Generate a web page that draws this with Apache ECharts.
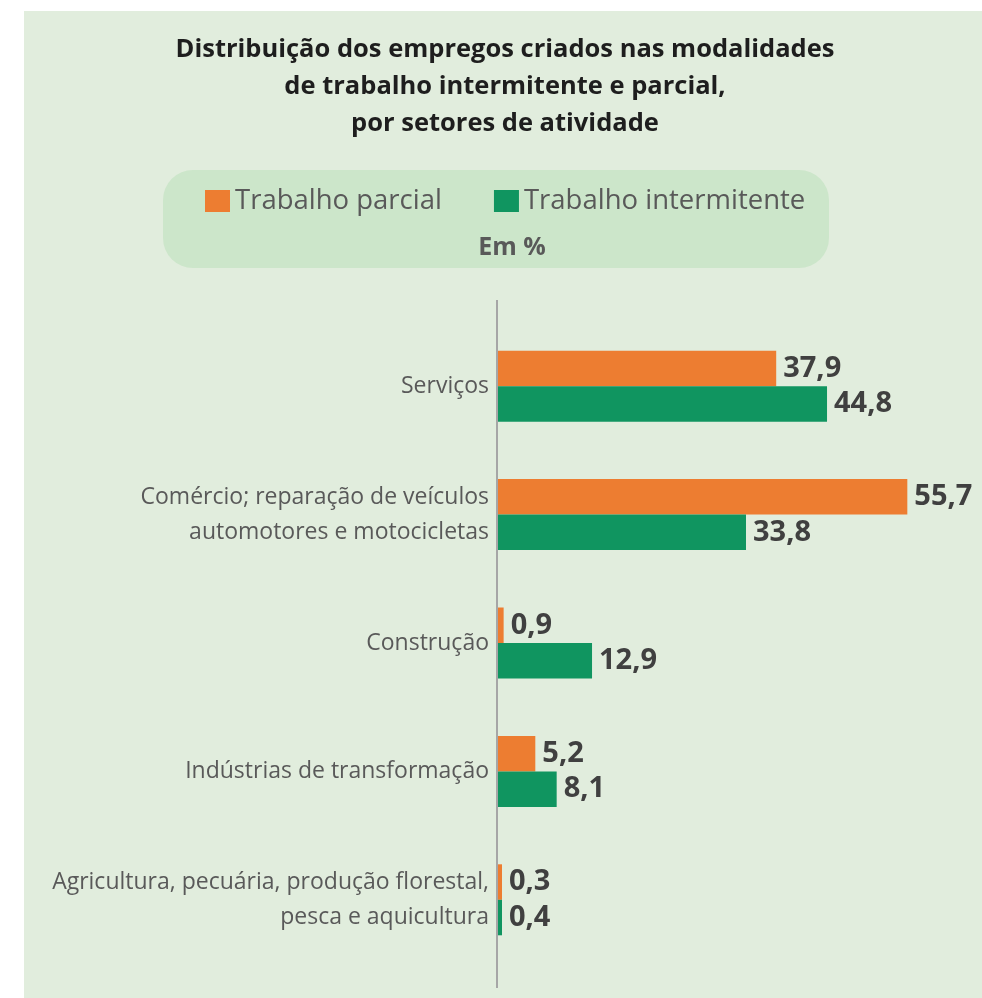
<!DOCTYPE html>
<html>
<head>
<meta charset="utf-8">
<script src="https://cdn.jsdelivr.net/npm/echarts@6/dist/echarts.min.js"></script>
<style>
html, body { margin: 0; padding: 0; background: #ffffff; }
#chart { width: 982px; height: 998px; }
</style>
</head>
<body>
<div id="chart"></div>
<script>
const categories = [
    "Serviços",
    "Comércio; reparação de veículos\nautomotores e motocicletas",
    "Construção",
    "Indústrias de transformação",
    "Agricultura, pecuária, produção florestal,\npesca e aquicultura"
];
const parcial = [37.9, 55.7, 0.9, 5.2, 0.3];
const intermitente = [44.8, 33.8, 12.9, 8.1, 0.4];
const seriesNames = ["Trabalho parcial", "Trabalho intermitente"];

const fontFamily = "'Open Sans', 'Noto Sans', sans-serif";
const fmt = v => String(v.value).replace(".", ",");

let myChart = echarts.init(document.getElementById("chart"));

let barLabel = {
    show: true,
    position: "right",
    distance: 7,
    formatter: fmt,
    color: "#404040",
    fontSize: 29,
    fontWeight: "bold",
    fontFamily: fontFamily
};

let option = {
    backgroundColor: "#ffffff",
    animation: false,
    title: [
        {
            text: "Distribuição dos empregos criados nas modalidades\nde trabalho intermitente e parcial,\npor setores de atividade",
            left: 500,
            top: 26,
            textAlign: "center",
            textStyle: {
                color: "#1e1e1e",
                fontSize: 25.5,
                fontWeight: "bold",
                lineHeight: 37,
                fontFamily: fontFamily
            }
        },
        {
            text: "Em %",
            left: 507,
            top: 230,
            textAlign: "center",
            textStyle: {
                color: "#595959",
                fontSize: 25,
                fontWeight: "bold",
                fontFamily: fontFamily
            }
        }
    ],
    legend: {
        data: seriesNames,
        left: 200,
        top: 182,
        itemWidth: 25,
        itemHeight: 22,
        itemGap: 52,
        icon: "rect",
        textStyle: {
            color: "#595959",
            fontSize: 27.5,
            fontFamily: fontFamily
        }
    },
    grid: {
        left: 497,
        right: 43,
        top: 322,
        bottom: 34
    },
    xAxis: {
        type: "value",
        min: 0,
        max: 60,
        show: false
    },
    yAxis: {
        type: "category",
        data: categories,
        inverse: true,
        axisLine: { show: false },
        axisTick: { show: false },
        axisLabel: {
            color: "#595959",
            fontSize: 23,
            lineHeight: 35,
            margin: 8,
            fontFamily: fontFamily
        }
    },
    series: [
        {
            name: seriesNames[0],
            type: "bar",
            data: parcial,
            barWidth: 35.5,
            barGap: "0%",
            barMinHeight: 5,
            itemStyle: { color: "#ed7d31" },
            label: barLabel
        },
        {
            name: seriesNames[1],
            type: "bar",
            data: intermitente,
            barWidth: 35.5,
            barGap: "0%",
            barMinHeight: 5,
            itemStyle: { color: "#109560" },
            label: barLabel
        }
    ]
};

myChart.setOption(option);

// panel background, legend box and the long vertical axis line
let x0 = myChart.convertToPixel({ xAxisIndex: 0 }, 0);
myChart.setOption({
    graphic: [
        {
            type: "rect",
            z: -10,
            silent: true,
            shape: { x: 24, y: 11, width: 958, height: 987 },
            style: { fill: "#e1eddd" }
        },
        {
            type: "rect",
            z: -5,
            silent: true,
            shape: { x: 163, y: 170, width: 666, height: 98, r: 30 },
            style: { fill: "#cce6ca" }
        },
        {
            type: "line",
            z: 5,
            silent: true,
            shape: { x1: x0, y1: 300, x2: x0, y2: 988 },
            style: { stroke: "#a6a6a6", lineWidth: 2 }
        }
    ]
});
</script>
</body>
</html>
